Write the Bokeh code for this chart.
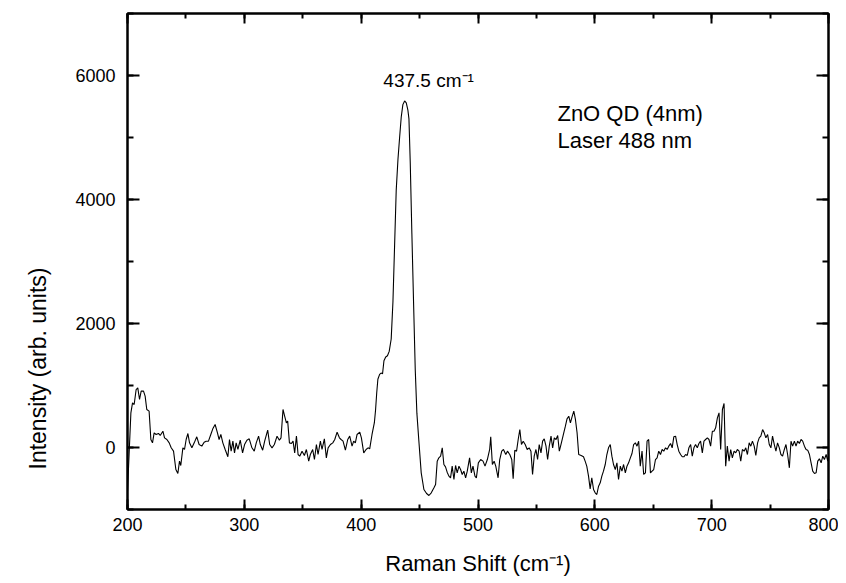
import math
from bokeh.plotting import figure
from bokeh.models import Range1d, LinearAxis, SingleIntervalTicker, Label, Title, CustomJSTickFormatter
from bokeh.embed import file_html
from bokeh.resources import INLINE

# Raman shift (cm^-1)
shift = [
    200.0, 202.9, 204.3, 205.7, 207.4, 208.8, 210.3, 211.7, 213.7, 215.1, 216.5, 218.5, 220.0, 221.4,
    222.8, 224.5, 226.5, 228.0, 230.3, 231.7, 233.7, 235.7, 237.4, 239.4, 241.4, 243.1, 244.5, 245.6,
    247.4, 248.8, 250.2, 251.7, 253.1, 255.1, 257.1, 259.3, 261.3, 263.6, 265.6, 267.3, 269.3, 271.3,
    273.0, 275.0, 277.0, 278.4, 279.9, 281.6, 283.6, 285.9, 287.3, 288.7, 290.2, 291.6, 293.0, 294.5,
    296.5, 298.5, 300.2, 302.2, 304.2, 306.5, 308.5, 310.2, 312.2, 313.7, 315.7, 317.4, 320.0, 321.7,
    323.7, 325.7, 328.0, 330.0, 331.4, 333.1, 334.5, 336.0, 337.1, 338.6, 340.3, 341.7, 343.1, 344.6,
    346.0, 347.4, 349.4, 351.4, 353.1, 355.1, 356.5, 358.5, 360.0, 361.7, 363.1, 365.1, 366.5, 368.5,
    370.2, 371.7, 373.7, 375.7, 377.4, 379.4, 381.4, 382.8, 384.5, 386.5, 388.5, 390.2, 392.2, 393.6,
    395.0, 396.5, 398.8, 400.2, 402.2, 404.2, 405.9, 407.3, 409.3, 411.3, 412.3, 413.3, 414.3, 415.8,
    417.0, 418.3, 419.5, 421.0, 422.5, 424.0, 425.7, 427.2, 428.6, 430.0, 431.5, 432.9, 434.3, 435.7,
    437.2, 438.6, 440.0, 440.9, 442.0, 443.4, 444.9, 446.3, 447.7, 449.4, 451.4, 453.7, 456.0, 458.0,
    460.0, 462.3, 463.7, 465.1, 466.5, 468.0, 469.4, 470.8, 472.2, 473.6, 475.1, 476.5, 477.9, 479.4,
    480.8, 482.2, 483.7, 485.1, 486.5, 487.9, 489.4, 490.8, 492.8, 494.3, 495.7, 497.4, 498.6, 500.3,
    502.3, 504.3, 506.0, 508.0, 510.0, 510.9, 512.3, 513.8, 515.2, 517.2, 518.6, 520.3, 521.8, 523.8,
    525.2, 527.2, 528.9, 530.1, 531.5, 533.0, 534.4, 535.8, 537.2, 538.7, 540.4, 542.1, 543.8, 545.3,
    546.7, 548.1, 549.6, 551.0, 552.4, 553.9, 555.3, 556.7, 558.2, 559.6, 561.0, 562.5, 563.9, 565.3,
    566.8, 568.2, 569.6, 571.0, 573.1, 574.8, 576.2, 577.7, 579.1, 580.5, 582.0, 583.4, 584.8, 586.2,
    588.3, 590.3, 591.7, 593.1, 594.6, 596.0, 597.4, 598.9, 600.3, 601.7, 603.2, 604.6, 606.0, 607.4,
    608.9, 610.3, 611.7, 613.2, 614.6, 616.0, 617.5, 618.9, 620.3, 621.8, 623.2, 624.6, 626.1, 627.5,
    628.9, 630.4, 631.8, 633.2, 634.7, 636.1, 637.5, 638.9, 640.4, 641.8, 643.3, 644.7, 646.1, 647.6,
    649.0, 650.4, 651.9, 653.3, 654.7, 656.2, 657.6, 659.0, 660.5, 661.9, 663.3, 664.8, 666.2, 667.6,
    669.1, 670.5, 671.9, 673.4, 674.8, 676.2, 677.7, 679.1, 680.5, 682.0, 683.4, 684.8, 686.2, 687.7,
    689.1, 690.5, 692.0, 693.4, 694.8, 696.3, 697.7, 699.1, 700.6, 702.0, 703.4, 704.9, 706.3, 707.7,
    709.2, 710.6, 712.0, 713.4, 714.9, 716.3, 717.7, 719.2, 720.6, 722.0, 723.5, 724.9, 726.3, 727.8,
    729.2, 730.6, 732.1, 733.5, 734.9, 736.4, 737.8, 739.3, 740.7, 742.1, 743.6, 745.0, 746.4, 747.9,
    749.3, 750.7, 752.1, 753.6, 755.0, 756.4, 757.9, 759.3, 760.7, 762.2, 763.6, 765.0, 766.5, 767.9,
    769.3, 770.8, 772.2, 773.6, 775.1, 776.5, 777.9, 779.4, 780.8, 782.2, 783.7, 785.1, 786.5, 788.0,
    789.4, 790.8, 792.2, 793.7, 795.1, 796.5, 798.0, 799.4, 800.0,
]

# Intensity (arb. units)
intensity = [
    -700, 559, 720, 693, 935, 962, 774, 909, 909, 828, 613, 586, 129, 75,
    237, 210, 226, 194, 263, 156, 129, 75, -5, -59, -355, -419, -220, -290,
    -5, -32, 129, 226, 75, -5, 75, 172, 48, 22, 86, 102, 102, 210,
    301, 371, 237, 129, 210, 75, -32, -150, 129, -59, 102, -86, 75, -32,
    118, -86, 48, 118, 140, -5, -59, 75, 183, 48, -43, 102, 280, 48,
    -5, 48, 183, 118, 156, 613, 505, 398, 425, 75, 65, 102, -86, 183,
    -113, -140, -59, -129, -32, -220, -113, -32, -194, 48, -113, 102, -32, 140,
    -167, -5, 48, 75, 129, 247, 156, 129, 102, -43, 129, 183, 22, 102,
    75, 210, 247, 156, -86, -32, -5, -22, 210, 400, 600, 880, 1100, 1180,
    1200, 1190, 1400, 1460, 1480, 1550, 1750, 2350, 3250, 4150, 4650, 5000, 5330, 5530,
    5590, 5560, 5440, 5300, 4600, 3450, 2300, 1250, 550, 100, -409, -677, -742, -774,
    -731, -650, -597, -220, -167, -140, -5, -274, -312, -398, -462, -489, -301, -516,
    -290, -409, -301, -355, -435, -382, -489, -382, -167, -409, -301, -462, -489, -247,
    -194, -220, -301, -194, -32, 172, -274, -220, -301, -489, -194, -59, -32, -113,
    -59, -113, -194, -505, -43, -59, 129, 290, 48, 102, 48, -32, -5, -59,
    -435, -140, -32, -194, 48, -86, 102, 140, 22, -194, 22, 183, -5, 156,
    129, 194, -59, 48, 210, 344, 462, 505, 398, 495, 586, 452, 237, -113,
    -129, -150, -220, -301, -462, -667, -489, -677, -731, -758, -624, -570, -462, -382,
    -274, -113, -5, 48, -140, -274, -355, -247, -516, -301, -382, -274, -409, -301,
    -247, -167, -97, 48, 75, 22, 102, -301, -59, -435, -409, 102, 129, -409,
    -382, -355, -194, -167, -59, -113, -32, -59, -5, -32, 22, 65, -5, 172,
    183, 48, -59, -113, -150, -150, -113, -129, -5, 48, -140, -5, 48, -5,
    65, 102, -86, 102, 129, 156, 129, 22, 263, 263, 317, 478, 559, -32,
    613, 710, -301, 22, -220, -32, -167, -59, -86, -32, -59, -220, -32, -59,
    -5, -113, 75, 22, 102, 22, -129, 75, 156, 183, 290, 237, 156, 210,
    48, -5, 183, 48, -59, 75, -5, -113, -140, -32, 48, -113, -328, 102,
    22, 102, 22, 102, 65, 129, 102, 22, -32, -43, -113, -247, -382, -419,
    -409, -220, -183, -247, -140, -194, -113, -220, -140,
]

x_ticks_major = 100
y_ticks_major = 2000
peak_label = "437.5 cm\u207b\u00b9"
sample_label = "ZnO QD (4nm)"
laser_label = "Laser 488 nm"
x_title = "Raman Shift (cm\u207b\u00b9)"
y_title = "Intensity (arb. units)"

FONT = "Liberation Sans"

p = figure(
    width=838, height=581,
    output_backend="svg", toolbar_location=None,
    x_range=Range1d(200, 800), y_range=Range1d(-1000, 7000),
    min_border_left=127, min_border_right=10, min_border_top=13, min_border_bottom=72,
    background_fill_color="white", border_fill_color="white",
)
p.grid.visible = False
p.outline_line_color = "black"
p.outline_line_width = 2

p.line(shift, intensity, line_color="black", line_width=1.1)

def style_axis(ax, major_in, minor_in):
    ax.axis_line_width = 2
    ax.axis_line_color = "black"
    ax.major_tick_in = major_in
    ax.major_tick_out = 0
    ax.minor_tick_in = minor_in
    ax.minor_tick_out = 0
    ax.major_tick_line_width = 2
    ax.minor_tick_line_width = 2
    ax.major_label_text_font = FONT
    ax.major_label_text_font_size = "18px"
    ax.major_label_text_color = "black"
    ax.axis_label_text_font = FONT
    ax.axis_label_text_font_style = "normal"
    ax.axis_label_text_color = "black"

xb = p.xaxis[0]
xb.ticker = SingleIntervalTicker(interval=x_ticks_major, num_minor_ticks=2)
style_axis(xb, 10, 5)
xb.axis_label = x_title
xb.axis_label_text_font_size = "22px"
xb.major_label_standoff = 8
xb.axis_label_standoff = 17

yl = p.yaxis[0]
yl.ticker = SingleIntervalTicker(interval=y_ticks_major, num_minor_ticks=2)
style_axis(yl, 12, 6)
yl.major_label_standoff = 12

blank = CustomJSTickFormatter(code="return ''")

xt = LinearAxis(ticker=SingleIntervalTicker(interval=x_ticks_major, num_minor_ticks=2), formatter=blank)
style_axis(xt, 10, 5)
xt.major_label_standoff = 0
xt.major_label_text_font_size = "0px"
p.add_layout(xt, "above")

yr = LinearAxis(ticker=SingleIntervalTicker(interval=y_ticks_major, num_minor_ticks=2), formatter=blank)
style_axis(yr, 12, 6)
yr.major_label_standoff = 0
yr.major_label_text_font_size = "0px"
p.add_layout(yr, "right")

# y-axis title (a side title so it can be shifted along the axis like the original)
p.add_layout(Title(text=y_title, align="left", vertical_align="top", offset=40, standoff=40,
                   text_font=FONT, text_font_size="23px", text_font_style="normal",
                   text_color="black"), "left")

p.add_layout(Label(x=419, y=5920, text=peak_label, text_font=FONT, text_font_size="19px",
                   text_color="black", text_baseline="alphabetic", text_align="left"))
p.add_layout(Label(x=568, y=5390, text=sample_label, text_font=FONT, text_font_size="22px",
                   text_color="black", text_baseline="alphabetic", text_align="left"))
p.add_layout(Label(x=568, y=4955, text=laser_label, text_font=FONT, text_font_size="22px",
                   text_color="black", text_baseline="alphabetic", text_align="left"))

open("out.html", "w").write(file_html(p, INLINE))
